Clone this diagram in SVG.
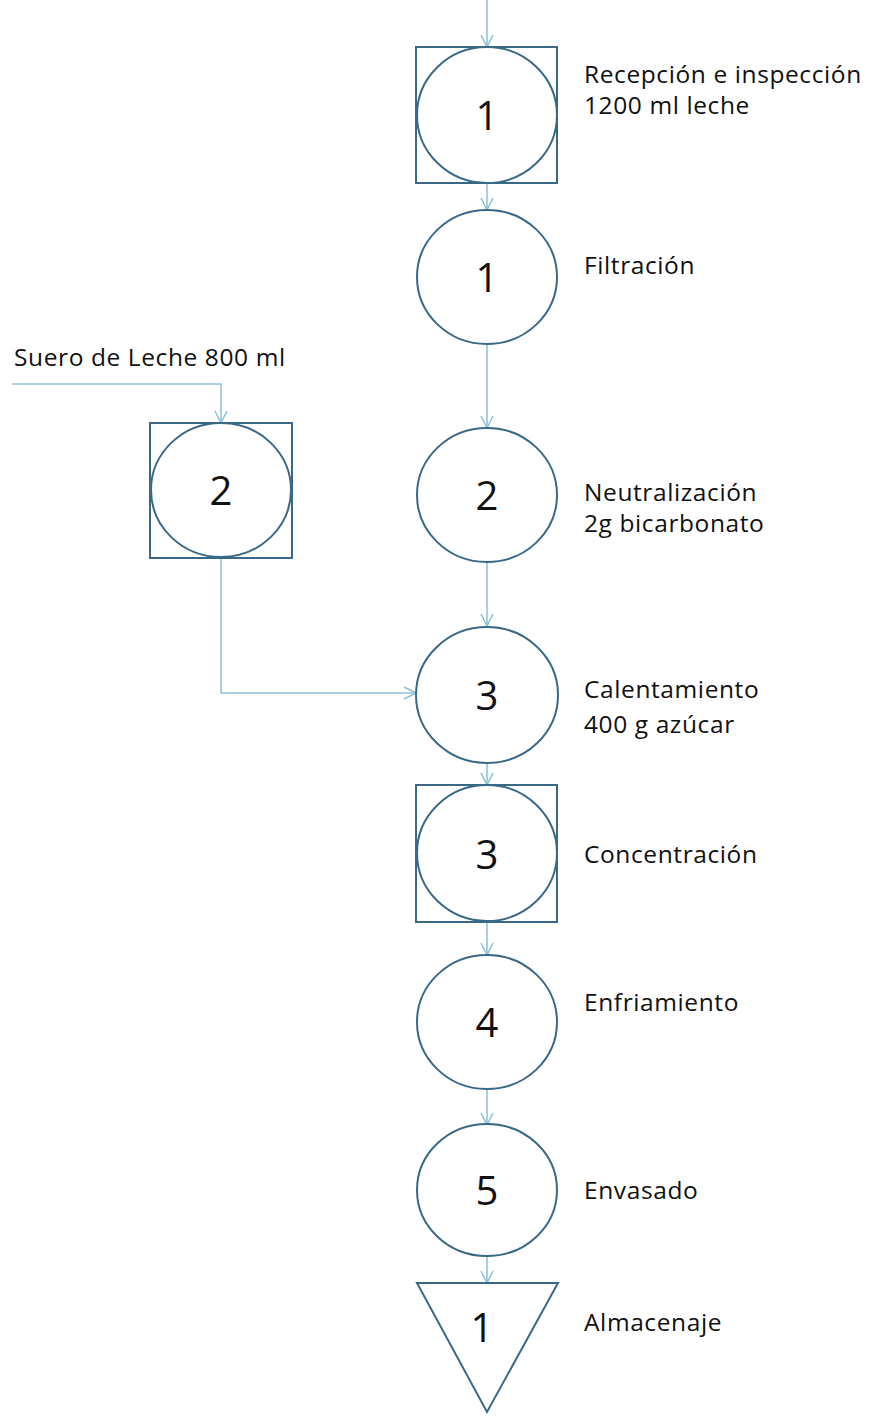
<svg xmlns="http://www.w3.org/2000/svg" width="870" height="1416" viewBox="0 0 870 1416">
<style>
.shape{fill:#fff;stroke:#3a6988;stroke-width:2}
.conn{fill:none;stroke:#8fc3dc;stroke-width:1.6}
.num{font-family:"Open Sans","Liberation Sans",Arial,sans-serif;font-size:40px;fill:#111;text-anchor:middle}
.lbl{font-family:"Open Sans","Liberation Sans",Arial,sans-serif;font-size:24.5px;letter-spacing:0.6px;fill:#111}
</style>
<defs>
<marker id="arr" viewBox="0 0 14 14" refX="13" refY="7" markerWidth="14" markerHeight="14" markerUnits="userSpaceOnUse" orient="auto">
<path d="M1,1 L13,7 L1,13" fill="none" stroke="#8fc3dc" stroke-width="1.6"/>
</marker>
</defs>
<rect width="870" height="1416" fill="#fff"/>
<g id="connectors">
<path class="conn" d="M487,0 V47" marker-end="url(#arr)"/>
<path class="conn" d="M487,183 V210" marker-end="url(#arr)"/>
<path class="conn" d="M487,343 V428" marker-end="url(#arr)"/>
<path class="conn" d="M487,562 V626" marker-end="url(#arr)"/>
<path class="conn" d="M487,763 V785" marker-end="url(#arr)"/>
<path class="conn" d="M487,922 V955" marker-end="url(#arr)"/>
<path class="conn" d="M487,1090 V1125" marker-end="url(#arr)"/>
<path class="conn" d="M487,1256 V1283" marker-end="url(#arr)"/>
<path class="conn" d="M12,384 H221 V423" marker-end="url(#arr)"/>
<path class="conn" d="M221,558 V693 H416" marker-end="url(#arr)"/>
</g>
<g id="n-recepcion">
<rect class="shape" x="416" y="47" width="141" height="136"/>
<ellipse class="shape" cx="487" cy="115" rx="70" ry="68"/>
<text class="num" x="487" y="130">1</text>
<text class="lbl" x="584" y="83">Recepción e inspección</text>
<text class="lbl" x="584" y="114">1200 ml leche</text>
</g>
<g id="n-filtracion">
<ellipse class="shape" cx="487" cy="277" rx="70" ry="67"/>
<text class="num" x="487" y="292">1</text>
<text class="lbl" x="584" y="274">Filtración</text>
</g>
<g id="n-suero">
<text class="lbl" x="14" y="366">Suero de Leche 800 ml</text>
<rect class="shape" x="150" y="423" width="142" height="135"/>
<ellipse class="shape" cx="221" cy="490" rx="70" ry="67"/>
<text class="num" x="221" y="505">2</text>
</g>
<g id="n-neutralizacion">
<ellipse class="shape" cx="487" cy="495" rx="70" ry="67"/>
<text class="num" x="487" y="510">2</text>
<text class="lbl" x="584" y="501">Neutralización</text>
<text class="lbl" x="584" y="532">2g bicarbonato</text>
</g>
<g id="n-calentamiento">
<ellipse class="shape" cx="487" cy="695" rx="71" ry="68"/>
<text class="num" x="487" y="710">3</text>
<text class="lbl" x="584" y="698">Calentamiento</text>
<text class="lbl" x="584" y="733">400 g azúcar</text>
</g>
<g id="n-concentracion">
<rect class="shape" x="416" y="785" width="141" height="137"/>
<ellipse class="shape" cx="487" cy="853" rx="70" ry="68"/>
<text class="num" x="487" y="869">3</text>
<text class="lbl" x="584" y="863">Concentración</text>
</g>
<g id="n-enfriamiento">
<ellipse class="shape" cx="487" cy="1022" rx="70" ry="67"/>
<text class="num" x="487" y="1037">4</text>
<text class="lbl" x="584" y="1011">Enfriamiento</text>
</g>
<g id="n-envasado">
<ellipse class="shape" cx="487" cy="1190" rx="70" ry="66"/>
<text class="num" x="487" y="1205">5</text>
<text class="lbl" x="584" y="1199">Envasado</text>
</g>
<g id="n-almacenaje">
<polygon class="shape" points="417,1283 558,1283 487,1412"/>
<text class="num" x="482" y="1342">1</text>
<text class="lbl" x="584" y="1331">Almacenaje</text>
</g>
</svg>
